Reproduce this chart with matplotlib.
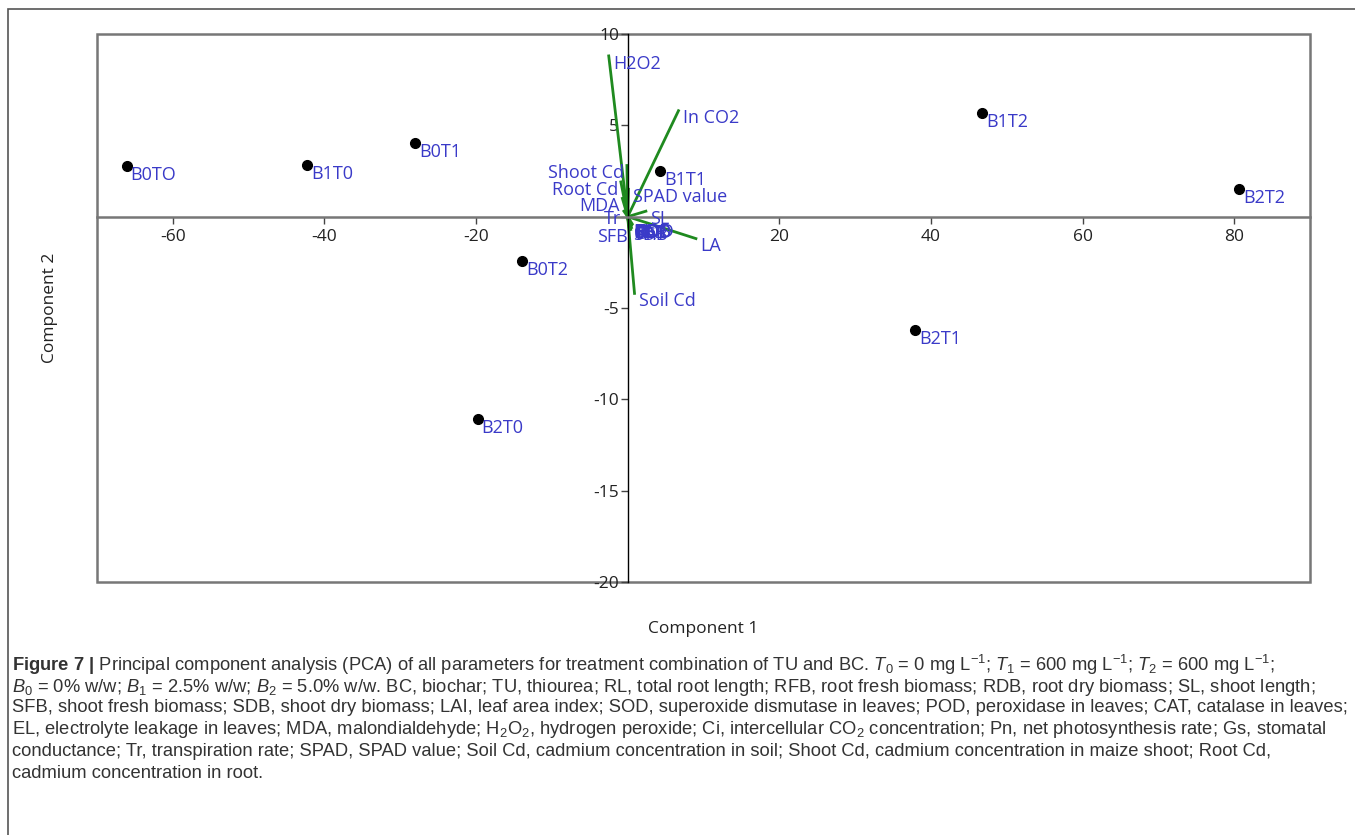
import numpy as np
import matplotlib
matplotlib.use("Agg")
import matplotlib.pyplot as plt
from matplotlib.patches import Rectangle

# scores of the treatment combinations
sample_names = ["B0TO", "B1T0", "B0T1", "B0T2", "B2T0", "B1T1", "B1T2", "B2T2", "B2T1"]
sample_pc1 = [-66.1, -42.3, -28.0, -13.9, -19.8, 4.3, 46.8, 80.6, 37.9]
sample_pc2 = [2.75, 2.85, 4.05, -2.45, -11.1, 2.5, 5.7, 1.5, -6.2]

# loadings of the measured parameters
var_names = ["H2O2", "In CO2", "Shoot Cd", "Root Cd", "MDA", "Tr", "SPAD value", "SL",
             "LA", "Soil Cd", "SFB", "RL", "RFB", "RDB", "SDB", "SOD", "POD", "CAT",
             "EL", "Pn", "Gs"]
var_pc1 = [-2.5, 6.7, -0.1, -0.9, -0.7, -0.5, 0.1, 2.4,
           9.0, 0.9, 0.4, 0.2, 0.3, 0.5, 0.2, 0.4, 0.6, 0.3,
           0.2, 0.5, 0.4]
var_pc2 = [8.8, 5.8, 2.8, 1.9, 1.0, 0.3, 1.5, 0.3,
           -1.2, -4.2, -0.7, -0.4, -0.5, -0.45, -0.6, -0.5, -0.4, -0.55,
           -0.5, -0.6, -0.45]
# labels written to the left of their vector tip
left_side = ["Shoot Cd", "Root Cd", "MDA", "Tr", "SFB"]

x_ticks = [-60, -40, -20, 20, 40, 60, 80]
y_ticks = [-20, -15, -10, -5, 5, 10]

caption_lines = [
    r"$\bf{Figure\ 7\ |}$ Principal component analysis (PCA) of all parameters for treatment combination of TU and BC. "
    r"$T_0$ = 0 mg L$^{-1}$; $T_1$ = 600 mg L$^{-1}$; $T_2$ = 600 mg L$^{-1}$;",
    r"$B_0$ = 0% w/w; $B_1$ = 2.5% w/w; $B_2$ = 5.0% w/w. BC, biochar; TU, thiourea; RL, total root length; "
    r"RFB, root fresh biomass; RDB, root dry biomass; SL, shoot length;",
    "SFB, shoot fresh biomass; SDB, shoot dry biomass; LAI, leaf area index; SOD, superoxide dismutase in leaves; "
    "POD, peroxidase in leaves; CAT, catalase in leaves;",
    r"EL, electrolyte leakage in leaves; MDA, malondialdehyde; H$_2$O$_2$, hydrogen peroxide; Ci, intercellular "
    r"CO$_2$ concentration; Pn, net photosynthesis rate; Gs, stomatal",
    "conductance; Tr, transpiration rate; SPAD, SPAD value; Soil Cd, cadmium concentration in soil; "
    "Shoot Cd, cadmium concentration in maize shoot; Root Cd,",
    "cadmium concentration in root.",
]

plt.rcParams["font.family"] = ["Open Sans", "DejaVu Sans"]
plt.rcParams["axes.unicode_minus"] = False
plt.rcParams["mathtext.fontset"] = "custom"
plt.rcParams["mathtext.rm"] = "Liberation Sans"
plt.rcParams["mathtext.it"] = "Liberation Sans:italic"
plt.rcParams["mathtext.bf"] = "Liberation Sans:bold"

label_blue = "#3a3ac8"
vec_green = "#1f8a1f"

fig = plt.figure(figsize=(13.55, 8.35), dpi=100)
ax = fig.add_axes([97 / 1355, 1 - 582 / 835, (1310 - 97) / 1355, (582 - 34) / 835])

ax.set_xlim(-70, 90)
ax.set_ylim(-20, 10)

# axes through the origin
ax.spines["left"].set_position(("data", 0))
ax.spines["bottom"].set_position(("data", 0))
ax.spines["left"].set_color("black")
ax.spines["left"].set_linewidth(1.0)
ax.spines["bottom"].set_color("#777777")
ax.spines["bottom"].set_linewidth(1.8)
ax.spines["top"].set_visible(False)
ax.spines["right"].set_visible(False)
ax.add_patch(Rectangle((0, 0), 1, 1, transform=ax.transAxes, fill=False,
                       ec="#777777", lw=1.8, clip_on=False, zorder=0))

ax.set_xticks(x_ticks)
ax.set_yticks(y_ticks + [0])
ax.set_yticklabels([str(t) for t in y_ticks] + [""])
ax.tick_params(axis="x", direction="out", length=5, width=1, color="#444444",
               labelsize=12.5, labelcolor="#222222", pad=4)
ax.tick_params(axis="y", direction="out", length=5, width=1, color="#444444",
               labelsize=12.5, labelcolor="#222222", pad=1)

# loading vectors
for name, vx, vy in zip(var_names, var_pc1, var_pc2):
    ax.plot([0, vx], [0, vy], color=vec_green, lw=2, zorder=2)
    if name in left_side:
        ax.annotate(name, (vx, vy), xytext=(-2, 1), textcoords="offset points",
                    ha="right", va="top", color=label_blue, fontsize=13, zorder=3)
    else:
        ax.annotate(name, (vx, vy), xytext=(3, 1), textcoords="offset points",
                    ha="left", va="top", color=label_blue, fontsize=13, zorder=3)

# sample scores
ax.plot(sample_pc1, sample_pc2, "o", color="black", ms=7, zorder=4)
for name, sx, sy in zip(sample_names, sample_pc1, sample_pc2):
    ax.annotate(name, (sx, sy), xytext=(3, 0), textcoords="offset points",
                ha="left", va="top", color=label_blue, fontsize=13, zorder=4)

fig.text(703 / 1355, 1 - 629 / 835, "Component 1", ha="center", va="center",
         fontsize=12.5, color="#222222")
fig.text(50 / 1355, 1 - 308 / 835, "Component 2", ha="center", va="center",
         rotation=90, fontsize=12.5, color="#222222")

# outer frame of the figure panel
fig.add_artist(Rectangle((8 / 1355, -0.1), 1.2, 1 - 9 / 835 + 0.1,
                         transform=fig.transFigure, fill=False, ec="#555555", lw=1.2))

caption_y = [665, 687, 708, 730, 751, 773]
for line, yy in zip(caption_lines, caption_y):
    fig.text(12 / 1355, 1 - yy / 835, line, ha="left", va="center", fontsize=13.2,
             color="#333333", family="Liberation Sans")

fig.savefig("out.png", dpi=100)
